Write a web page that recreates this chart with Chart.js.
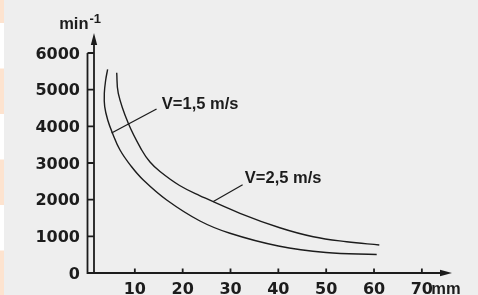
<!DOCTYPE html>
<html>
<head>
<meta charset="utf-8">
<script src="https://cdn.jsdelivr.net/npm/chart.js@4/dist/chart.umd.min.js"></script>
<style>
html,body{margin:0;padding:0;background:#eeeeee;}
canvas{display:block;}
</style>
</head>
<body>
<canvas id="c" width="478" height="295"></canvas>
<script>
// ---- data ----
const X_TICKS = [10, 20, 30, 40, 50, 60, 70];
const Y_TICKS = [0, 1000, 2000, 3000, 4000, 5000, 6000];
const X_UNIT = 'mm';
const Y_UNIT = 'min';
const Y_UNIT_EXP = '-1';

// V = 1,5 m/s (lower curve)
const v15_x = [4.31, 3.91, 3.62, 3.70, 4.33, 5.29, 6.90, 9.20, 11.77, 16.66, 23.62, 29.89, 40.01, 49.96, 60.56];
const v15_y = [5554, 5263, 4901, 4535, 4172, 3826, 3354, 2918, 2536, 1991, 1418, 1083, 736, 559, 505];
// V = 2,5 m/s (upper curve)
const v25_x = [6.21, 6.54, 8.63, 11.43, 13.17, 15.26, 19.36, 23.54, 31.98, 40.3, 47.3, 54.28, 61.1];
const v25_y = [5462, 4901, 4082, 3354, 3027, 2768, 2386, 2113, 1628, 1235, 990, 854, 764];

const LABELS = ['V=1,5 m/s', 'V=2,5 m/s'];
const LABEL_X = [15.65, 33.0];
const LABEL_Y = [4590, 2572];
// leader lines: [point on curve, point near label]
const LEAD1_X = [5.13, 14.54];
const LEAD1_Y = [3818, 4473];
const LEAD2_X = [26.32, 32.53];
const LEAD2_Y = [1944, 2408];

const pts = (xs, ys) => xs.map((x, i) => ({x: x, y: ys[i]}));

const INK = '#1c1c1c';
const TXT_FONT = 'bold 16.5px "Liberation Sans", Arial, sans-serif';

const decor = {
  id: 'decor',
  beforeDraw(chart) {
    const ctx = chart.ctx;
    ctx.save();
    ctx.fillStyle = '#eeeeee';
    ctx.fillRect(0, 0, chart.width, chart.height);
    ctx.fillStyle = '#ffffff';
    ctx.fillRect(0, 0, 4, chart.height);
    ctx.fillStyle = '#fde3cf';
    for (let y0 = -22.5; y0 < chart.height; y0 += 91) {
      ctx.fillRect(0, y0, 4, 45.5);
    }
    ctx.restore();
  },
  afterDatasetsDraw(chart) {
    const ctx = chart.ctx;
    const xs = chart.scales.x, ys = chart.scales.y;
    const a = chart.chartArea;
    const L = a.left + 0.5, R = L + 6.5, B = ys.getPixelForValue(0);
    ctx.save();
    ctx.strokeStyle = INK;
    ctx.fillStyle = INK;
    ctx.lineWidth = 1.8;
    ctx.lineCap = 'butt';
    const yTop = ys.getPixelForValue(Y_TICKS[Y_TICKS.length - 1]);
    ctx.beginPath();
    ctx.moveTo(L, yTop); ctx.lineTo(L, B);
    ctx.moveTo(R, a.top + 10); ctx.lineTo(R, B);
    Y_TICKS.forEach(v => {
      const y = ys.getPixelForValue(v);
      ctx.moveTo(L, y); ctx.lineTo(R, y);
    });
    ctx.moveTo(L - 0.9, B); ctx.lineTo(a.right - 10, B);
    X_TICKS.forEach(v => {
      const x = xs.getPixelForValue(v);
      ctx.moveTo(x, B); ctx.lineTo(x, B - 4.5);
    });
    ctx.stroke();
    ctx.beginPath();
    ctx.moveTo(R, a.top); ctx.lineTo(R - 3.2, a.top + 12); ctx.lineTo(R + 3.2, a.top + 12); ctx.closePath();
    ctx.fill();
    ctx.beginPath();
    ctx.moveTo(a.right, B); ctx.lineTo(a.right - 12, B - 3.2); ctx.lineTo(a.right - 12, B + 3.2); ctx.closePath();
    ctx.fill();

    ctx.font = TXT_FONT;
    ctx.textBaseline = 'alphabetic';
    ctx.textAlign = 'right';
    ctx.fillText(Y_UNIT, L + 1, 29);
    ctx.font = 'bold 13px "Liberation Sans", Arial, sans-serif';
    ctx.textAlign = 'left';
    ctx.fillText(Y_UNIT_EXP, L + 2, 22.5);
    ctx.font = TXT_FONT;
    const x70 = xs.getPixelForValue(X_TICKS[X_TICKS.length - 1]);
    ctx.fillText(X_UNIT, x70 + 9.5, 293.5);

    ctx.textBaseline = 'middle';
    ctx.textAlign = 'left';
    LABELS.forEach((t, i) => {
      ctx.fillText(t, xs.getPixelForValue(LABEL_X[i]), ys.getPixelForValue(LABEL_Y[i]));
    });
    ctx.restore();
  }
};

const lineDs = (data, w, t) => ({
  data: data,
  borderColor: INK,
  borderWidth: w,
  pointRadius: 0,
  fill: false,
  tension: t
});

new Chart(document.getElementById('c'), {
  type: 'line',
  data: {
    datasets: [
      lineDs(pts(v15_x, v15_y), 1.4, 0.4),
      lineDs(pts(v25_x, v25_y), 1.4, 0.4),
      lineDs(pts(LEAD1_X, LEAD1_Y), 1.3, 0),
      lineDs(pts(LEAD2_X, LEAD2_Y), 1.3, 0)
    ]
  },
  options: {
    responsive: false,
    animation: false,
    devicePixelRatio: 1,
    layout: {padding: {top: 33, right: 26, left: 0, bottom: 0}},
    plugins: {legend: {display: false}, tooltip: {enabled: false}},
    scales: {
      x: {
        type: 'linear',
        min: 0,
        max: 76.3,
        afterBuildTicks: s => { s.ticks = X_TICKS.map(v => ({value: v})); },
        afterFit: s => { s.height = 22; },
        grid: {display: false, drawTicks: false, tickLength: 0},
        border: {display: false},
        ticks: {
          autoSkip: false,
          maxRotation: 0,
          padding: 7,
          color: INK,
          callback: v => String(v),
          font: {family: 'DejaVu Sans', weight: 'bold', size: 16}
        }
      },
      y: {
        type: 'linear',
        min: 0,
        max: 6545,
        afterBuildTicks: s => { s.ticks = Y_TICKS.map(v => ({value: v})); },
        afterFit: s => { s.width = 87; },
        grid: {display: false, drawTicks: false, tickLength: 0},
        border: {display: false},
        ticks: {
          padding: 7,
          labelOffset: 1.5,
          color: INK,
          callback: v => String(v),
          font: {family: 'DejaVu Sans', weight: 'bold', size: 16}
        }
      }
    }
  },
  plugins: [decor]
});
</script>
</body>
</html>
